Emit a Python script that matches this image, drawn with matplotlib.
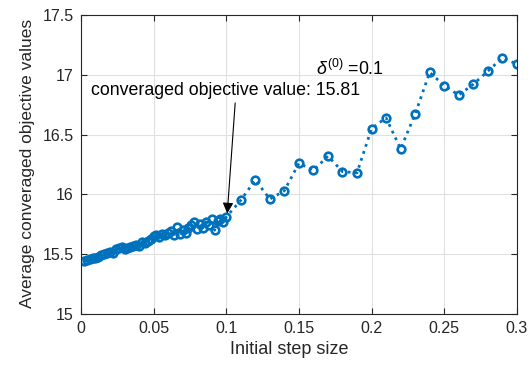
import matplotlib.pyplot as plt

plt.rcParams.update({'font.family': ['Liberation Sans', 'DejaVu Sans'],
                     'mathtext.fontset': 'custom',
                     'mathtext.rm': 'Liberation Sans',
                     'mathtext.it': 'Liberation Sans:italic'})

# initial step sizes and averaged converged objective values
step_fine = [0.002, 0.004, 0.006, 0.008, 0.010, 0.012, 0.014, 0.016, 0.018, 0.020,
             0.022, 0.024, 0.026, 0.028, 0.030, 0.032, 0.034, 0.036, 0.038, 0.040,
             0.042, 0.044, 0.046, 0.048, 0.050, 0.052, 0.054, 0.056, 0.058, 0.060,
             0.062, 0.064, 0.066, 0.068, 0.070, 0.072, 0.074, 0.076, 0.078, 0.080,
             0.082, 0.084, 0.086, 0.088, 0.090, 0.092, 0.094, 0.096, 0.098, 0.100]
obj_fine = [15.44, 15.45, 15.46, 15.47, 15.47, 15.48, 15.49, 15.50, 15.51, 15.52,
            15.51, 15.54, 15.55, 15.56, 15.54, 15.55, 15.56, 15.57, 15.58, 15.57,
            15.60, 15.59, 15.61, 15.63, 15.65, 15.66, 15.64, 15.67, 15.66, 15.68,
            15.69, 15.66, 15.73, 15.67, 15.70, 15.68, 15.72, 15.74, 15.77, 15.71,
            15.75, 15.72, 15.77, 15.74, 15.79, 15.70, 15.78, 15.79, 15.77, 15.81]
step_coarse = [0.11, 0.12, 0.13, 0.14, 0.15, 0.16, 0.17, 0.18, 0.19, 0.20,
               0.21, 0.22, 0.23, 0.24, 0.25, 0.26, 0.27, 0.28, 0.29, 0.30]
obj_coarse = [15.95, 16.12, 15.96, 16.03, 16.26, 16.20, 16.32, 16.19, 16.18, 16.55,
              16.64, 16.38, 16.67, 17.02, 16.91, 16.83, 16.92, 17.03, 17.14, 17.09]

step = step_fine + step_coarse
obj = obj_fine + obj_coarse

xticks = [0, 0.05, 0.1, 0.15, 0.2, 0.25, 0.3]
xlabels = ['0', '0.05', '0.1', '0.15', '0.2', '0.25', '0.3']
yticks = [15, 15.5, 16, 16.5, 17, 17.5]
ylabels = ['15', '15.5', '16', '16.5', '17', '17.5']

blue = '#0072BD'
dark = '#262626'

fig = plt.figure(figsize=(5.29, 3.65), dpi=100)
ax = fig.add_axes([0.153, 0.140, 0.824, 0.819])

ax.plot(step, obj, linestyle=':', color=blue, linewidth=2.0,
        marker='o', markersize=5.5, markerfacecolor='none',
        markeredgecolor=blue, markeredgewidth=1.9)

ax.annotate('converaged objective value: 15.81',
            xy=(0.1007, 15.84), xytext=(0.0069, 16.87),
            va='center', ha='left', fontsize=12.8, color='black',
            arrowprops=dict(arrowstyle='-|>', color='black', lw=0.8,
                            mutation_scale=16, shrinkA=1, shrinkB=0,
                            relpos=(0.537, 0.0)))
ax.text(0.1617, 17.0, r'$\delta^{(0)}$ =0.1', fontsize=12.8, ha='left', va='baseline')

ax.set_xlim(0, 0.3)
ax.set_ylim(15, 17.5)
ax.set_xticks(xticks)
ax.set_xticklabels(xlabels)
ax.set_yticks(yticks)
ax.set_yticklabels(ylabels)
ax.tick_params(direction='in', top=True, right=True, labelsize=11.5, length=4,
               color=dark, labelcolor=dark, pad=5)
ax.grid(True, color='#e0e0e0', linewidth=0.8)
ax.set_axisbelow(True)
for s in ax.spines.values():
    s.set_color(dark)
    s.set_linewidth(0.8)

ax.set_xlabel('Initial step size', fontsize=13, color=dark)
ax.set_ylabel('Average converaged objective values', fontsize=12.5, color=dark)
ax.xaxis.set_label_coords(0.479, -0.092)
ax.yaxis.set_label_coords(-0.105, 0.503)

fig.savefig('out.png', dpi=100)
